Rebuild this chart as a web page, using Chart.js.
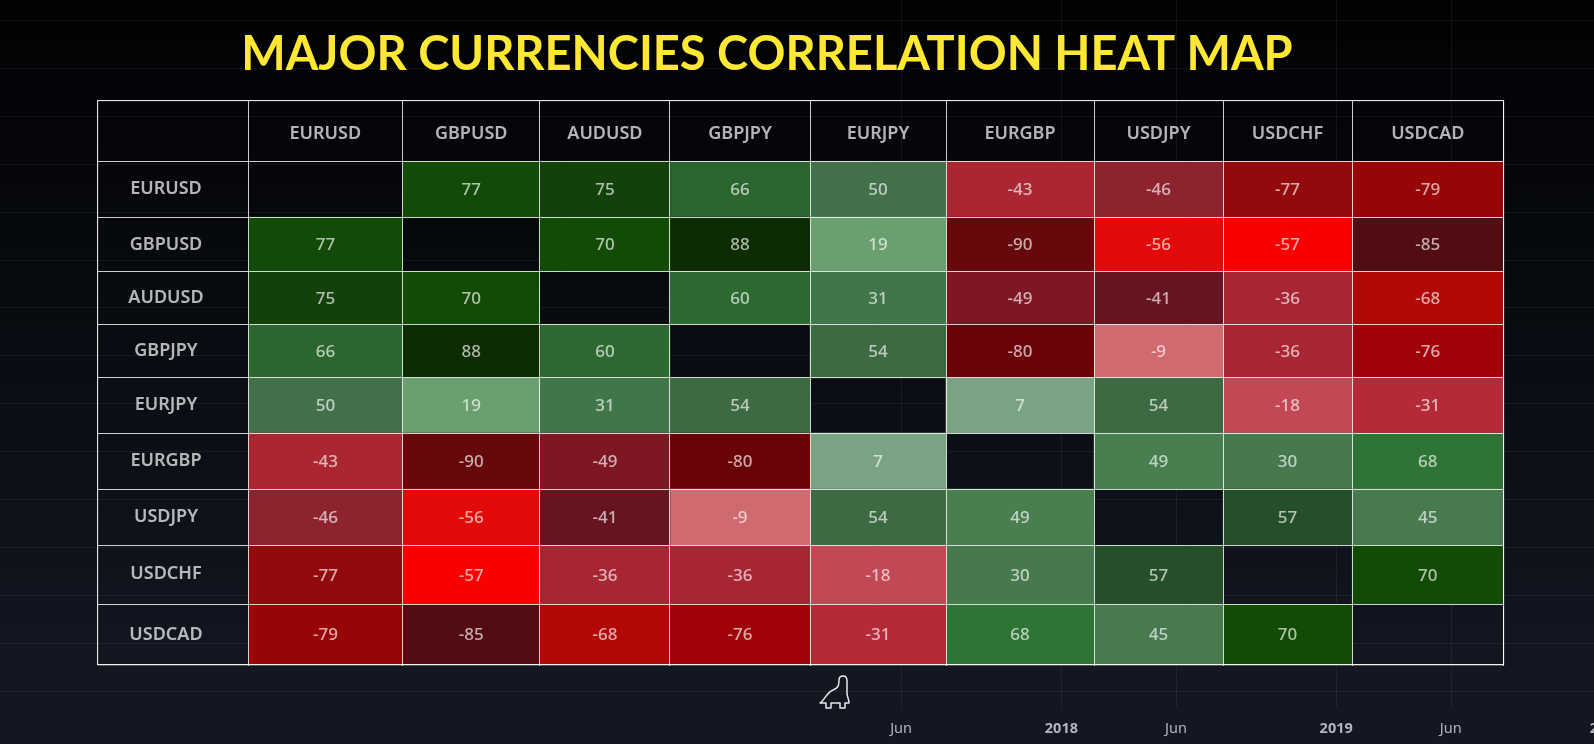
<!DOCTYPE html>
<html>
<head>
<meta charset="utf-8">
<script src="https://cdn.jsdelivr.net/npm/chart.js@4/dist/chart.umd.js"></script>
<style>
  html, body { margin: 0; padding: 0; width: 1594px; height: 744px; overflow: hidden;
    background: linear-gradient(180deg, #010203 0%, #05070b 25%, #0c0f16 60%, #131722 92%); }
  canvas { position: absolute; left: 0; top: 0; }
  svg { position: absolute; left: 819px; top: 675px; }
</style>
</head>
<body>
<canvas id="chart" width="1594" height="744"></canvas>
<svg width="32" height="34" viewBox="0 0 32 34" fill="none" stroke="#e8e9ec" stroke-width="1.5" stroke-linejoin="round">
  <path d="M1 28 C5 26 8 17 14 15 C19 13 20 11 20 5 C20 2 22 1 24 1 C27 1 28 3 28 6 L28 18 C28 22 30 24 30 28 L26 28 L26 33 L21 33 L21 28 L12 28 L12 33 L7 33 L7 28 Z"/>
</svg>
<script>
const pairs = ["EURUSD", "GBPUSD", "AUDUSD", "GBPJPY", "EURJPY", "EURGBP", "USDJPY", "USDCHF", "USDCAD"];

const eurusd = [null, 77, 75, 66, 50, -43, -46, -77, -79];
const gbpusd = [77, null, 70, 88, 19, -90, -56, -57, -85];
const audusd = [75, 70, null, 60, 31, -49, -41, -36, -68];
const gbpjpy = [66, 88, 60, null, 54, -80, -9, -36, -76];
const eurjpy = [50, 19, 31, 54, null, 7, 54, -18, -31];
const eurgbp = [-43, -90, -49, -80, 7, null, 49, 30, 68];
const usdjpy = [-46, -56, -41, -9, 54, 49, null, 57, 45];
const usdchf = [-77, -57, -36, -36, -18, 30, 57, null, 70];
const usdcad = [-79, -85, -68, -76, -31, 68, 45, 70, null];
const rows = [eurusd, gbpusd, audusd, gbpjpy, eurjpy, eurgbp, usdjpy, usdchf, usdcad];

// background time axis, months since Jan 2017 (estimated)
const timeMonths = [5, 12, 17, 24, 29, 35.8];
const timeLabels = ["Jun", "2018", "Jun", "2019", "Jun", "2020"];

const cellColors = {
  88: "#0d2c04", 77: "#124a07", 75: "#12420a", 70: "#124c04", 68: "#2e7535", 66: "#2c662f",
  60: "#2d6a31", 57: "#244f2a", 54: "#3c6a42", 50: "#41704a", 49: "#487e50", 45: "#487a50",
  31: "#41764a", 30: "#467a4e", 19: "#6aa06f", 7: "#7aa383",
  "-9": "#cf6a70", "-18": "#c24855", "-31": "#b42a38", "-36": "#a82533", "-41": "#661420",
  "-43": "#aa2633", "-46": "#8e2330", "-49": "#7e1624", "-56": "#e40a0a", "-57": "#fb0000",
  "-68": "#b30808", "-76": "#a00307", "-77": "#930a0d", "-79": "#970507", "-80": "#6a0308",
  "-85": "#520c12", "-90": "#65090d"
};

const columnWidths = [154.6, 137.2, 130.2, 140, 136, 148, 129, 129, 151.6];
const rowHeights = [58.6, 52.8, 52.9, 52.7, 56, 56, 56, 58, 63];
const headerWidth = 150.4;
const headerHeight = 59.4;
const lineColor = "rgba(255,255,255,0.8)";
const labelFont = "'Noto Sans', sans-serif";

const cumulate = (sizes) => sizes.reduce((out, s) => [...out, out[out.length - 1] + s], [0]);

// category scale whose bands have their own sizes
class SizedCategoryScale extends Chart.CategoryScale {
  static id = "sizedCategory";
  static defaults = {};
  getPixelForValue(value) {
    const i = typeof value === "number" ? value : this.parse(value);
    if (i === null || i === undefined) return NaN;
    const sizes = this.options.sizes;
    const edges = cumulate(sizes);
    const total = edges[edges.length - 1];
    const start = this.isHorizontal() ? this.left : this.top;
    const length = this.isHorizontal() ? this.width : this.height;
    return start + ((edges[i] + sizes[i] / 2) / total) * length;
  }
}

// linear scale where each unit has its own size
class SizedLinearScale extends Chart.LinearScale {
  static id = "sizedLinear";
  static defaults = {};
  getPixelForValue(value) {
    const sizes = this.options.sizes;
    const edges = cumulate(sizes);
    const i = Math.min(Math.max(Math.floor(value), 0), sizes.length - 1);
    const pos = edges[i] + (value - i) * sizes[i];
    return this.left + (pos / edges[edges.length - 1]) * this.width;
  }
}
Chart.register(SizedCategoryScale, SizedLinearScale);

const datasets = pairs.map((pair, c) => ({
  label: pair,
  data: rows.map((row) => (row[c] === null ? null : [c, c + 1])),
  backgroundColor: rows.map((row) => cellColors[row[c]]),
  barThickness: "flex",
  categoryPercentage: 1,
  barPercentage: 1,
  borderWidth: 0
}));

const backdrop = {
  id: "backdrop",
  beforeDraw(chart) {
    const { ctx, scales } = chart;
    ctx.save();
    ctx.strokeStyle = "rgba(255,255,255,0.055)";
    ctx.lineWidth = 1;
    for (let y = 20; y < 700; y += 47.9) {
      ctx.beginPath();
      ctx.moveTo(0, Math.round(y) + 0.5);
      ctx.lineTo(chart.width, Math.round(y) + 0.5);
      ctx.stroke();
    }
    scales.time.ticks.forEach((tick) => {
      const x = Math.round(scales.time.getPixelForValue(tick.value)) + 0.5;
      ctx.beginPath();
      ctx.moveTo(x, 0);
      ctx.lineTo(x, 708);
      ctx.stroke();
    });
    ctx.restore();
  }
};

const cellText = {
  id: "cellText",
  afterDraw(chart) {
    const { ctx, scales } = chart;
    ctx.save();
    // table frame, its bottom sits on the last row's edge
    const lastBar = chart.getDatasetMeta(0).data[pairs.length - 1];
    const bottom = lastBar.getProps(["y", "height"], true);
    const top = scales.y.top - headerHeight;
    ctx.strokeStyle = "#ffffff";
    ctx.lineWidth = 1;
    ctx.strokeRect(scales.x.left - headerWidth, top, scales.x.width + headerWidth, bottom.y + bottom.height / 2 - top);
    ctx.font = "500 17px " + labelFont;
    ctx.fillStyle = "rgba(255,255,255,0.66)";
    ctx.textAlign = "center";
    ctx.textBaseline = "middle";
    chart.data.datasets.forEach((ds, c) => {
      chart.getDatasetMeta(c).data.forEach((bar, r) => {
        if (rows[r][c] === null) return;
        const p = bar.getCenterPoint();
        ctx.fillText(String(rows[r][c]), p.x, p.y + 1);
      });
    });
    ctx.restore();
  }
};

new Chart(document.getElementById("chart"), {
  type: "bar",
  data: { labels: pairs, datasets },
  plugins: [backdrop, cellText],
  options: {
    responsive: false,
    animation: false,
    indexAxis: "y",
    layout: { padding: { left: 30.4, right: 90.4, top: 0, bottom: 0 } },
    plugins: {
      legend: { display: false },
      tooltip: { enabled: false },
      title: {
        display: true,
        text: "MAJOR CURRENCIES CORRELATION HEAT MAP",
        color: "#ffe833",
        font: { family: "Lato, sans-serif", size: 47, weight: "bold", lineHeight: 1.2 },
        padding: { top: 27, bottom: 17.2 }
      }
    },
    scales: {
      x: {
        type: "sizedLinear",
        sizes: columnWidths,
        position: "top",
        min: 0,
        max: 9,
        stacked: false,
        afterFit: (s) => { s.height = 0; },
        ticks: { display: false, stepSize: 1 },
        grid: { color: lineColor, z: 1, tickLength: headerHeight, drawTicks: true },
        border: { display: false }
      },
      header: {
        type: "sizedCategory",
        sizes: columnWidths,
        axis: "x",
        position: "top",
        labels: pairs,
        afterFit: (s) => { s.height = headerHeight; },
        ticks: {
          color: "rgba(255,255,255,0.7)",
          font: { family: labelFont, size: 18, weight: "600" },
          padding: 15,
          maxRotation: 0,
          autoSkip: false
        },
        grid: { display: false, drawTicks: false },
        border: { display: false }
      },
      y: {
        type: "sizedCategory",
        sizes: rowHeights,
        stacked: true,
        position: "left",
        afterFit: (s) => { s.width = 217.6; },
        ticks: {
          color: "rgba(255,255,255,0.7)",
          font: { family: labelFont, size: 18, weight: "600" },
          crossAlign: "center",
          padding: -106,
          autoSkip: false
        },
        grid: { color: lineColor, z: 1, offset: true, tickLength: headerWidth },
        border: { display: false }
      },
      time: {
        type: "linear",
        position: "bottom",
        axis: "x",
        min: -23.52,
        max: 31.31,
        afterFit: (s) => { s.height = 78; s.paddingLeft = 0; s.paddingRight = 0; },
        afterBuildTicks: (s) => { s.ticks = timeMonths.map((value) => ({ value })); },
        ticks: {
          color: "#b2b5be",
          autoSkip: false,
          maxRotation: 0,
          padding: 54,
          font: (c) => ({ family: labelFont, size: 14.5, weight: c.index % 2 ? "bold" : "normal" }),
          callback: (v) => timeLabels[timeMonths.indexOf(v)]
        },
        grid: { display: false, drawTicks: false },
        border: { display: false }
      }
    }
  }
});
</script>
</body>
</html>
